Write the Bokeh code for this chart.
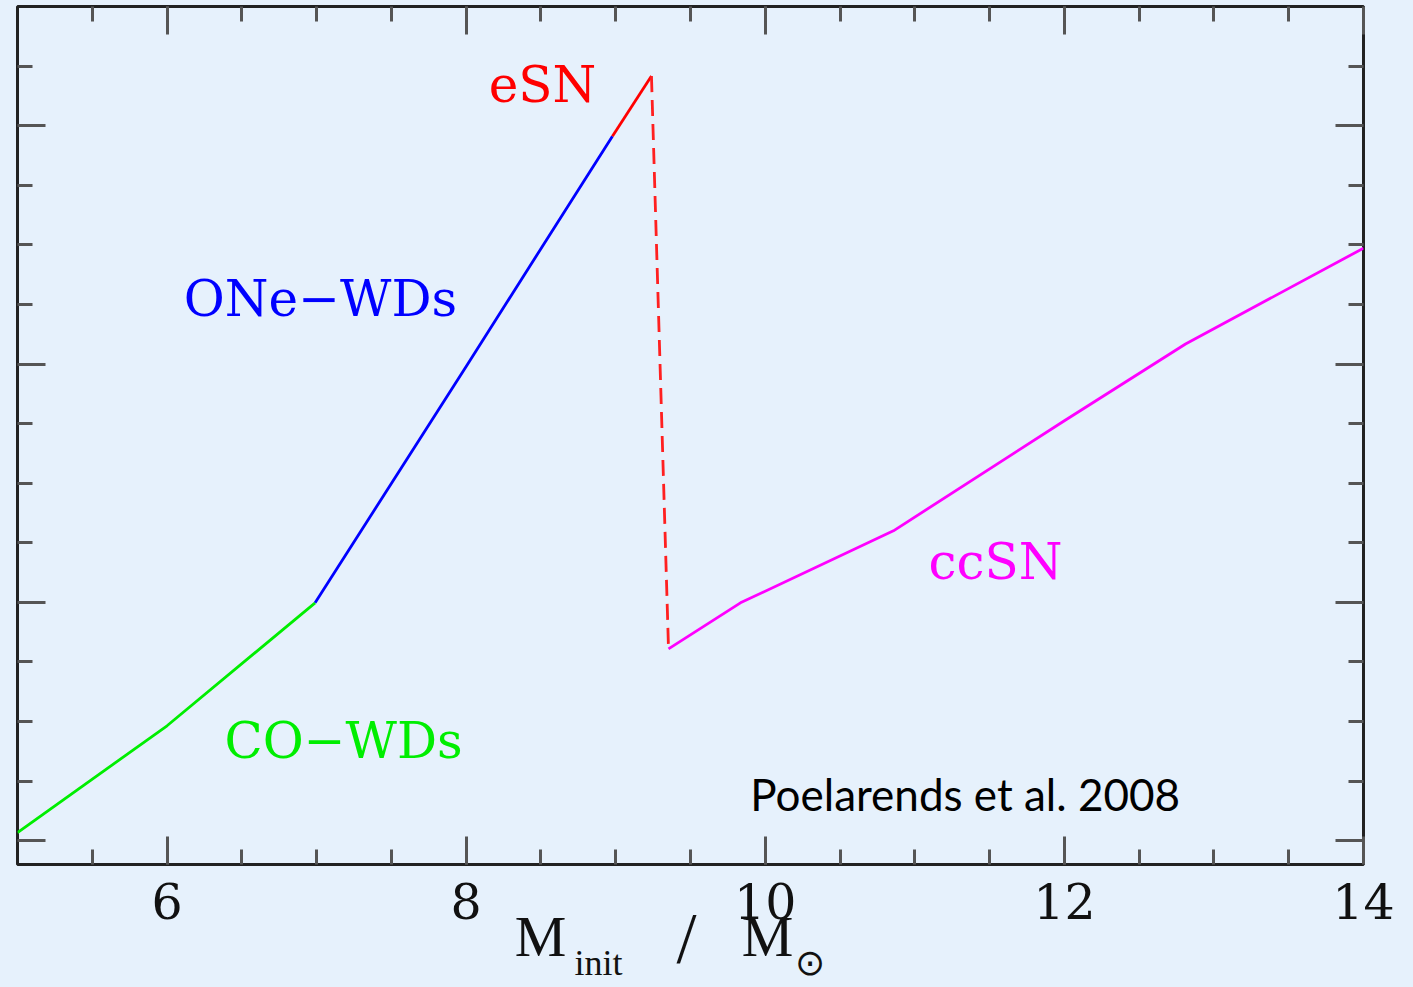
from bokeh.plotting import figure
from bokeh.models import Range1d, LinearAxis, FixedTicker, CustomJSTickFormatter, Label, ColumnDataSource
from bokeh.core.properties import value
from bokeh.embed import file_html
from bokeh.resources import INLINE

# ---- data ----
co_x = [5.0, 6.0, 6.99]
co_y = [0.034, 0.482, 0.998]
one_x = [6.99, 8.0, 8.978]
one_y = [0.998, 1.99, 2.956]
esn_x = [8.978, 9.239]
esn_y = [2.956, 3.208]
drop_x = [9.239, 9.353]
drop_y = [3.208, 0.805]
cc_x = [9.353, 9.834, 10.857, 12.0, 12.81, 14.0]
cc_y = [0.805, 0.998, 1.300, 1.762, 2.084, 2.486]

lab_text = ["eSN", "ONe\u2212WDs", "CO\u2212WDs", "ccSN"]
lab_x = [8.51, 7.026, 7.18, 11.539]
lab_y = [3.17, 2.273, 0.419, 1.17]
lab_col = ["#ff0000", "#0000ff", "#00ee00", "#ff00ff"]

x_major = [6, 8, 10, 12, 14]
x_minor = [5.5, 6.0, 6.5, 7.0, 7.5, 8.0, 8.5, 9.0, 9.5, 10.0, 10.5, 11.0, 11.5, 12.0, 12.5, 13.0, 13.5]
y_major = [0, 1, 2, 3]
y_minor = [0.25, 0.5, 0.75, 1.25, 1.5, 1.75, 2.25, 2.5, 2.75, 3.25]

# axis title pieces  M_init / M_sun
title_big = ["M", "M"]
title_big_x = [8.497, 10.015]
title_small = ["init", "\u2299"]
title_small_x = [8.885, 10.302]
title_slash = ["/"]
title_slash_x = [9.473]

BG = "#e6f1fc"

p = figure(frame_width=1346, frame_height=858, output_backend="svg", toolbar_location=None,
           x_range=Range1d(5, 14), y_range=Range1d(-0.1, 3.5),
           min_border_left=17, min_border_right=50, min_border_top=6, min_border_bottom=123)
p.background_fill_color = BG
p.border_fill_color = BG
p.outline_line_color = "#222222"
p.outline_line_width = 3
p.grid.visible = False

empty = CustomJSTickFormatter(code="return ''")

def style(ax, labels=False):
    ax.axis_line_color = None
    ax.major_tick_in = 28
    ax.major_tick_out = 0
    ax.minor_tick_in = 15
    ax.minor_tick_out = 0
    ax.major_tick_line_color = "#555555"
    ax.minor_tick_line_color = "#555555"
    ax.major_tick_line_width = 3
    ax.minor_tick_line_width = 3
    if not labels:
        ax.formatter = empty
        ax.major_label_text_font_size = "0px"
        ax.major_label_standoff = 0

bx = p.xaxis[0]
bx.ticker = FixedTicker(ticks=x_major, minor_ticks=x_minor)
style(bx, labels=True)
bx.major_label_text_font = "DejaVu Serif"
bx.major_label_text_font_size = "49px"
bx.major_label_text_color = "#111111"
bx.major_label_standoff = 18

ly = p.yaxis[0]
ly.ticker = FixedTicker(ticks=y_major, minor_ticks=y_minor)
style(ly)

top = LinearAxis(ticker=FixedTicker(ticks=x_major, minor_ticks=x_minor))
style(top)
p.add_layout(top, "above")
right = LinearAxis(ticker=FixedTicker(ticks=y_major, minor_ticks=y_minor))
style(right)
p.add_layout(right, "right")

def title_axis(ticks, texts, size, standoff):
    ax = LinearAxis(ticker=FixedTicker(ticks=ticks, minor_ticks=[]),
                    formatter=CustomJSTickFormatter(args=dict(names=texts),
                                                    code="return names[index] || ''"))
    ax.axis_line_color = None
    ax.major_tick_line_color = None
    ax.minor_tick_line_color = None
    ax.major_tick_in = 0
    ax.major_tick_out = 0
    ax.minor_tick_in = 0
    ax.minor_tick_out = 0
    ax.major_label_text_font = "Liberation Serif"
    ax.major_label_text_font_size = size
    ax.major_label_text_color = "#111111"
    ax.major_label_standoff = standoff
    p.add_layout(ax, "below")

title_axis(title_big_x, title_big, "58px", -18)
title_axis(title_small_x, title_small, "36px", -29)
title_axis(title_slash_x, title_slash, "72px", -88)

# ---- curves ----
p.line(co_x, co_y, line_color="#00ee00", line_width=2.8)
p.line(one_x, one_y, line_color="#0000ff", line_width=2.8)
p.line(esn_x, esn_y, line_color="#ff0000", line_width=2.8)
p.line(drop_x, drop_y, line_color="#ff2020", line_width=2.8, line_dash="16 8")
p.line(cc_x, cc_y, line_color="#ff00ff", line_width=2.8)

src = ColumnDataSource(dict(x=lab_x, y=lab_y, t=lab_text, c=lab_col))
p.text(x="x", y="y", text="t", text_color="c", source=src,
       text_font=value("DejaVu Serif"), text_font_size="50px",
       text_align="center", text_baseline="middle")

p.add_layout(Label(x=9.90, y=0.197, text="Poelarends et al. 2008", text_font="Lato",
                   text_font_size="44px", text_color="#000000", text_baseline="middle"))

html = file_html(p, INLINE)
html = html.replace("<head>", "<head><style>html,body{background:#e6f1fc;margin:0;overflow:hidden;}</style>", 1)
open("out.html", "w").write(html)
